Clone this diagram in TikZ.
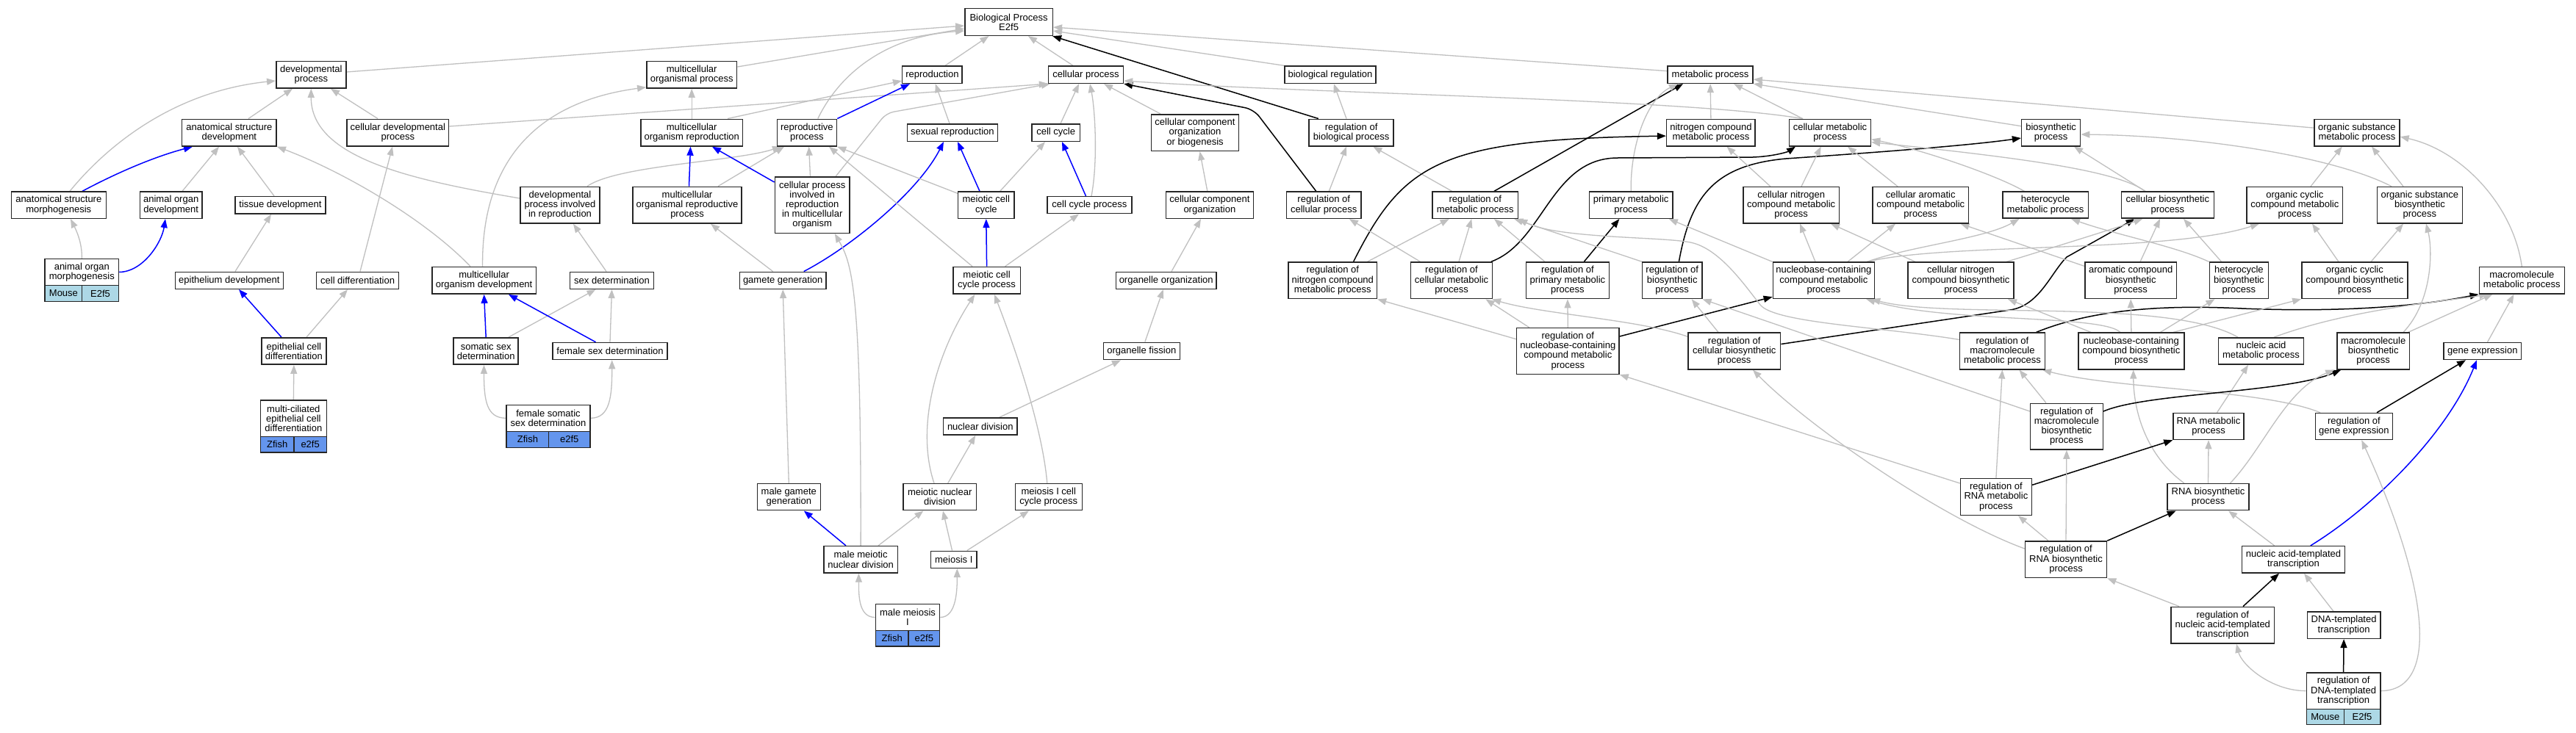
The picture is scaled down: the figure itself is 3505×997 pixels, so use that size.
\documentclass[tikz,border=0pt]{standalone}
\usepackage{fontspec}
\newfontfamily\nf{Liberation Sans}
\usetikzlibrary{arrows.meta}
\definecolor{edgegray}{RGB}{192,192,192}
\definecolor{mouseblue}{RGB}{173,216,230}
\definecolor{zfishblue}{RGB}{100,149,237}
\pgfdeclarelayer{edgelayer}
\pgfsetlayers{edgelayer,main}
\tikzset{
  box/.style={rectangle, draw=black!85, line width=1.5pt, fill=white, inner sep=0pt, align=center, font={\nf\fontsize{13}{13.2}\selectfont}},
  cellm/.style={box, fill=mouseblue},
  cellz/.style={box, fill=zfishblue},
  ge/.style={draw=edgegray, line width=1.3pt, -{Triangle[length=12pt,width=9pt]}},
  be/.style={draw=blue, line width=1.5pt, -{Triangle[length=12pt,width=9pt]}},
  ke/.style={draw=black, line width=1.5pt, -{Triangle[length=12pt,width=9pt]}},
}
\newcommand{\gobox}[6]{\node[box, minimum width=#4, minimum height=#5] (#1) at (#2,#3) {#6};}
\begin{document}
\begin{tikzpicture}[x=1pt,y=-1pt]
\useasboundingbox (0,0) rectangle (3505,997);
\begin{pgfonlayer}{edgelayer}
\fill[white] (0,0) rectangle (3505,997);
\end{pgfonlayer}
% rank 0-1
\gobox{bp}{1372.6}{30}{119.4}{36.7}{Biological Process\\E2f5}
\gobox{devproc}{423.3}{101.7}{95}{36.7}{developmental\\process}
\gobox{multorgproc}{941.2}{101.7}{122.8}{36.7}{multicellular\\organismal process}
\gobox{reproduction}{1268.4}{101.7}{81.5}{23.3}{reproduction}
\gobox{cellproc}{1477.5}{101.7}{101.8}{23.3}{cellular process}
\gobox{bioreg}{1810}{101.7}{124.4}{23.3}{biological regulation}
\gobox{metproc}{2327.1}{101.7}{116}{23.3}{metabolic process}
% rank 2
\gobox{anatdev}{311.9}{180.6}{128.6}{36.7}{anatomical structure\\development}
\gobox{celldevproc}{541.3}{180.6}{138.8}{36.7}{cellular developmental\\process}
\gobox{multorgrepro}{941.2}{180.6}{138.9}{36.7}{multicellular\\organism reproduction}
\gobox{reproproc}{1097.9}{180.6}{81.2}{36.7}{reproductive\\process}
\gobox{sexrepro}{1295.9}{180.6}{122.9}{23.3}{sexual reproduction}
\gobox{cellcycle}{1436.7}{180.6}{65.4}{23.3}{cell cycle}
\gobox{ccob}{1626}{180.6}{118.7}{49.7}{cellular component\\organization\\or biogenesis}
\gobox{regbioproc}{1838.6}{180.6}{114.9}{36.7}{regulation of\\biological process}
\gobox{nitromet}{2327.9}{180.6}{120.6}{36.4}{nitrogen compound\\metabolic process}
\gobox{cellmet}{2490}{180.6}{110.9}{36.4}{cellular metabolic\\process}
\gobox{biosyn}{2790.6}{180.6}{80}{36.4}{biosynthetic\\process}
\gobox{orgsubmet}{3206.9}{180.6}{116}{36.4}{organic substance\\metabolic process}
% rank 3
\gobox{anatmorph}{79.8}{279.2}{129}{36.3}{anatomical structure\\morphogenesis}
\gobox{aodev}{232.7}{279.2}{84.2}{36.3}{animal organ\\development}
\gobox{tissuedev}{381.4}{279.2}{122.8}{23.3}{tissue development}
\gobox{devprocrepro}{762}{279.2}{108.3}{49.7}{developmental\\process involved\\in reproduction}
\gobox{morp}{935}{279.2}{148}{49.7}{multicellular\\organismal reproductive\\process}
\gobox{cpirmo}{1105.2}{279.2}{101.7}{76.3}{cellular process\\involved in\\reproduction\\in multicellular\\organism}
\gobox{meioticcc}{1341.8}{279.2}{76.2}{36.3}{meiotic cell\\cycle}
\gobox{ccp}{1482.4}{279.2}{114.8}{23}{cell cycle process}
\gobox{cco}{1645.9}{279.2}{118.7}{36.3}{cellular component\\organization}
\gobox{regcellproc}{1801.2}{279.2}{101.4}{36.3}{regulation of\\cellular process}
\gobox{regmetproc}{2007.3}{279.2}{116.4}{36.3}{regulation of\\metabolic process}
\gobox{primmet}{2219.2}{279.2}{113.7}{36.3}{primary metabolic\\process}
\gobox{cellnitromet}{2437.2}{279.2}{130.9}{49.3}{cellular nitrogen\\compound metabolic\\process}
\gobox{cellarom}{2613.2}{279.2}{130.9}{49.3}{cellular aromatic\\compound metabolic\\process}
\gobox{heteromet}{2783.1}{279.2}{116.4}{36}{heterocycle\\metabolic process}
\gobox{cellbiosyn}{2949.3}{279.2}{125.9}{36}{cellular biosynthetic\\process}
\gobox{orgcycmet}{3122.4}{279.2}{130.4}{49.3}{organic cyclic\\compound metabolic\\process}
\gobox{orgsubbio}{3292.4}{279.2}{116}{49.3}{organic substance\\biosynthetic\\process}
% rank 4
\gobox{aomorph}{111.35}{370.5}{100.3}{35.6}{animal organ\\morphogenesis}
\node[cellm, minimum width=50.5, minimum height=22.4] (aomorph-a) at (86.45,399.5) {Mouse};
\node[cellm, minimum width=49.8, minimum height=22.4] (aomorph-b) at (136.6,399.5) {E2f5};
\gobox{epidev}{311.9}{381.8}{147}{23}{epithelium development}
\gobox{celldiff}{486.6}{381.8}{112.2}{23}{cell differentiation}
\gobox{multorgdev}{658.6}{381.8}{141.6}{36.7}{multicellular\\organism development}
\gobox{sexdet}{832.5}{381.8}{113.6}{23}{sex determination}
\gobox{gamgen}{1065.2}{381.8}{117.6}{23}{gamete generation}
\gobox{meioccp}{1342.6}{381.8}{91.5}{36.7}{meiotic cell\\cycle process}
\gobox{orgorg}{1586.7}{381.8}{136.6}{23}{organelle organization}
\gobox{regnitro}{1813.3}{381.8}{120.2}{49.7}{regulation of\\nitrogen compound\\metabolic process}
\gobox{regcellmet}{1975}{381.8}{110.6}{49.7}{regulation of\\cellular metabolic\\process}
\gobox{regprimmet}{2132.9}{381.8}{113.3}{49.7}{regulation of\\primary metabolic\\process}
\gobox{regbiosyn}{2275.2}{381.8}{81.2}{49.7}{regulation of\\biosynthetic\\process}
\gobox{nucmet}{2481.4}{381.8}{138.1}{49.3}{nucleobase-containing\\compound metabolic\\process}
\gobox{cellnitrobio}{2668}{381.8}{143.9}{49.3}{cellular nitrogen\\compound biosynthetic\\process}
\gobox{aromcompbio}{2899.2}{381.8}{124.5}{49.3}{aromatic compound\\biosynthetic\\process}
\gobox{heterobio}{3046.4}{381.8}{80}{49.3}{heterocycle\\biosynthetic\\process}
\gobox{orgcycbio}{3203.8}{381.8}{143.9}{49.3}{organic cyclic\\compound biosynthetic\\process}
\gobox{macromet}{3431.3}{381.8}{116}{36.3}{macromolecule\\metabolic process}
% rank 5
\gobox{epicelldiff}{399.9}{478}{88}{36.3}{epithelial cell\\differentiation}
\gobox{somsex}{661.2}{478}{88}{36.3}{somatic sex\\determination}
\gobox{femsex}{830}{478}{156.1}{23}{female sex determination}
\gobox{orgfis}{1553.3}{478}{104.1}{23.3}{organelle fission}
\gobox{regnucmet}{2133.3}{478}{139.3}{62.6}{regulation of\\nucleobase-containing\\compound metabolic\\process}
\gobox{regcellbio}{2359.7}{478}{125.9}{49.7}{regulation of\\cellular biosynthetic\\process}
\gobox{regmacromet}{2724.4}{478}{115.9}{49.7}{regulation of\\macromolecule\\metabolic process}
\gobox{nucbio}{2899.9}{478}{143.9}{49.7}{nucleobase-containing\\compound biosynthetic\\process}
\gobox{nucacidmet}{3076.5}{478}{116}{36.3}{nucleic acid\\metabolic process}
\gobox{macrobio}{3229.2}{478}{98.5}{49.7}{macromolecule\\biosynthetic\\process}
\gobox{geneexp}{3377.8}{478}{105.2}{23}{gene expression}
% rank 6
\gobox{multicil}{399.35}{569.65}{89.9}{49.3}{multi-ciliated\\epithelial cell\\differentiation}
\node[cellz, minimum width=45.6, minimum height=21.7] (multicil-a) at (377.2,605.15) {Zfish};
\node[cellz, minimum width=44.3, minimum height=21.7] (multicil-b) at (422.15,605.15) {e2f5};
\gobox{femsomsex}{746}{569.3}{113.6}{36}{female somatic\\sex determination}
\node[cellz, minimum width=57.4, minimum height=22] (femsomsex-a) at (717.9,598.3) {Zfish};
\node[cellz, minimum width=56.2, minimum height=22] (femsomsex-b) at (774.7,598.3) {e2f5};
\gobox{nucdiv}{1333.8}{580.5}{100.3}{23}{nuclear division}
\gobox{regmacrobio}{2811.9}{580.7}{98.7}{62.7}{regulation of\\macromolecule\\biosynthetic\\process}
\gobox{RNAmet}{3005}{580.5}{96}{36}{RNA metabolic\\process}
\gobox{reggeneexp}{3202.9}{580.5}{105.2}{36}{regulation of\\gene expression}
% rank 7
\gobox{malegamgen}{1073.3}{676.7}{86}{36}{male gamete\\generation}
\gobox{meiond}{1278.7}{676.7}{99.5}{36}{meiotic nuclear\\division}
\gobox{meioIcc}{1426.8}{676.7}{91.1}{36}{meiosis I cell\\cycle process}
\gobox{regRNAmet}{2715.9}{676.5}{96.9}{49.7}{regulation of\\RNA metabolic\\process}
\gobox{RNAbio}{3004.5}{676.7}{110.7}{36}{RNA biosynthetic\\process}
% rank 8
\gobox{malemeiond}{1171.1}{761.8}{100.3}{36.3}{male meiotic\\nuclear division}
\gobox{meiosisI}{1297.8}{761.8}{62.7}{23}{meiosis I}
\gobox{regRNAbio}{2811}{761.8}{111.1}{49.7}{regulation of\\RNA biosynthetic\\process}
\gobox{nucacidtrans}{3120.5}{761.8}{140.2}{36.3}{nucleic acid-templated\\transcription}
% rank 9
\gobox{malemeiosisI}{1235}{840.5}{87.2}{35.6}{male meiosis\\I}
\node[cellz, minimum width=44.7, minimum height=21.7] (malemeiosisI-a) at (1213.75,869.15) {Zfish};
\node[cellz, minimum width=42.5, minimum height=21.7] (malemeiosisI-b) at (1257.35,869.15) {e2f5};
\gobox{regnucacidtrans}{3024.3}{851.2}{140.6}{49.7}{regulation of\\nucleic acid-templated\\transcription}
\gobox{DNAtrans}{3189.1}{851.2}{99.5}{36.3}{DNA-templated\\transcription}
% rank 10
\gobox{regDNAtrans}{3188.6}{940.65}{100.4}{49.3}{regulation of\\DNA-templated\\transcription}
\node[cellm, minimum width=50.9, minimum height=21] (regDNAtrans-a) at (3163.85,975.8) {Mouse};
\node[cellm, minimum width=49.5, minimum height=21] (regDNAtrans-b) at (3214.05,975.8) {E2f5};

\begin{pgfonlayer}{edgelayer}
% to bp
\draw[ge] ([yshift=3.7]devproc.east) -- ([yshift=-5]bp.west);
\draw[ge] ([yshift=10.7]multorgproc.east) -- ([yshift=-9]bp.west);
\draw[ge] ([xshift=14.9]reproproc.north) .. controls (1140,105) and (1200,50) .. ([yshift=-12]bp.west);
\draw[ge] ([xshift=17.6]reproduction.north) -- ([xshift=-27.2]bp.south);
\draw[ge] ([xshift=-17.5]cellproc.north) -- ([xshift=26.4]bp.south);
\draw[ge] (bioreg.north west) -- ([yshift=-12]bp.east);
\draw[ge] ([yshift=5]metproc.west) -- ([yshift=-7]bp.east);
\draw[ke] ([xshift=-44.8]regbioproc.north) -- ([xshift=-1]bp.south east);
% developmental
\draw[ge] ([xshift=26.1]anatdev.north) -- ([xshift=-25.3]devproc.south);
\draw[ge] ([xshift=-27.3]celldevproc.north) -- ([xshift=26.7]devproc.south);
\draw[ge] ([xshift=15.2]anatmorph.north) .. controls (140,205) and (230,125) .. ([yshift=-8.3]devproc.west);
\draw[ge] ([yshift=9.2]devprocrepro.west) .. controls (560,245) and (423,215) .. (devproc.south);
\draw[be] ([xshift=32.2]anatmorph.north) .. controls (165,232) and (215,212) .. ([xshift=-49.9]anatdev.south);
\draw[ge] ([xshift=15.3]aodev.north) -- ([xshift=-13.9]anatdev.south);
\draw[ge] ([xshift=-8.4]tissuedev.north) -- ([xshift=11.1]anatdev.south);
\draw[ge] ([xshift=-18.6]multorgdev.north) .. controls (580,300) and (470,235) .. (anatdev.south east);
\draw[ge] (aomorph.north) .. controls (112,330) and (103,312) .. ([xshift=16.2]anatmorph.south);
\draw[be] (aomorph.east) .. controls (195,370) and (220,330) .. ([xshift=-7.7]aodev.south);
\draw[ge] ([xshift=8.1]epidev.north) -- ([xshift=-12.4]tissuedev.south);
\draw[ge] ([xshift=3.4]celldiff.north) -- ([xshift=-7.3]celldevproc.south);
\draw[ge] ([yshift=8.6]celldevproc.east) -- (cellproc.south west);
\draw[be] ([xshift=-16.9]epicelldiff.north) -- ([xshift=13.1]epidev.south);
\draw[ge] ([xshift=17.1]epicelldiff.north) -- ([xshift=-13.6]celldiff.south);
\draw[ge] (multicil.north) -- (epicelldiff.south);
% multicellular / reproduction
\draw[ge] ([xshift=-2]multorgdev.north) .. controls (655,230) and (720,140) .. ([yshift=2]multorgproc.south west);
\draw[ge] (multorgrepro.north) -- (multorgproc.south);
\draw[ge] ([xshift=48.8]multorgrepro.north) -- ([yshift=-8.3]reproduction.west);
\draw[be] (reproproc.north east) -- ([xshift=-30.4]reproduction.south);
\draw[ge] ([xshift=37]devprocrepro.north) .. controls (840,225) and (1000,220) .. ([xshift=-34.9]reproproc.south);
\draw[ge] ([xshift=42]morp.north) -- ([xshift=-30.9]reproproc.south);
\draw[be] ([xshift=2.5]morp.north) -- ([xshift=-1.7]multorgrepro.south);
\draw[be] ([yshift=31.2]cpirmo.west) -- ([xshift=27.8]multorgrepro.south);
\draw[ge] ([xshift=-2.7]cpirmo.north) -- ([xshift=2.7]reproproc.south);
\draw[ge, rounded corners=10] ([xshift=31.8]cpirmo.north) -- (1206,154) -- ([xshift=3]cellproc.south west);
\draw[ge] ([xshift=-7.5]sexdet.north) -- ([xshift=18]devprocrepro.south);
\draw[ge] ([xshift=-13.6]gamgen.north) -- ([xshift=32]morp.south);
\draw[be] ([xshift=28.5]gamgen.north) .. controls (1160,335) and (1250,260) .. ([xshift=-11.9]sexrepro.south);
\draw[be] (somsex.north) -- (multorgdev.south);
\draw[ge] ([xshift=30.8]somsex.north) -- ([xshift=-22]sexdet.south);
\draw[be] ([xshift=-19.5]femsex.north) -- ([xshift=33.4]multorgdev.south);
\draw[ge] (femsex.north) -- (sexdet.south);
\draw[ge] (femsomsex.west) .. controls (662,569.3) and (658.5,545) .. ([xshift=-2.7]somsex.south);
\draw[ge] (femsomsex.east) .. controls (830,569.3) and (832.7,540) .. ([xshift=2.7]femsex.south);
\draw[ge] (malegamgen.north) -- (gamgen.south);
\draw[be] ([xshift=-20.1]malemeiond.north) -- ([xshift=20.5]malegamgen.south);
\draw[ge] ([xshift=23.9]malemeiond.north) -- ([xshift=-22.3]meiond.south);
\draw[ge] (malemeiond.north) .. controls (1172,400) and (1160,360) .. ([xshift=30.6]cpirmo.south);
\draw[ge] (malemeiosisI.west) .. controls (1168,840.5) and (1168.4,810) .. ([xshift=-2.7]malemeiond.south);
\draw[ge] (malemeiosisI.east) .. controls (1302.3,840.5) and (1302.3,800) .. ([xshift=4.5]meiosisI.south);
% cell cycle
\draw[ge] ([xshift=-3.9]sexrepro.north) -- ([xshift=4.3]reproduction.south);
\draw[be] ([xshift=-8.8]meioticcc.north) -- ([xshift=7.1]sexrepro.south);
\draw[ge] ([xshift=18.9]meioticcc.north) -- ([xshift=-14.7]cellcycle.south);
\draw[ge] ([yshift=-3]meioticcc.north west) -- (reproproc.south east);
\draw[be] ([xshift=-4.9]ccp.north) -- ([xshift=8.3]cellcycle.south);
\draw[ge] ([xshift=2.6]ccp.north) .. controls (1494,220) and (1490,150) .. ([xshift=5.5]cellproc.south);
\draw[ge] ([xshift=6.3]cellcycle.north) -- ([xshift=-9.5]cellproc.south);
\draw[ge] ([xshift=-47]ccob.north) -- ([xshift=24.5]cellproc.south);
\draw[be] (meioccp.north) -- (meioticcc.south);
\draw[ge] ([xshift=25]meioccp.north) -- ([xshift=-14.4]ccp.south);
\draw[ge] ([xshift=-19.6]meioccp.north) -- ([xshift=30.1]reproproc.south);
\draw[ge] ([xshift=-7.7]meiond.north) .. controls (1245,580) and (1275,480) .. ([xshift=-16.3]meioccp.south);
\draw[ge] ([xshift=-2]meioIcc.north) .. controls (1420,600) and (1395,510) .. ([xshift=10.4]meioccp.south);
\draw[ge] ([xshift=11]meiond.north) -- ([xshift=-6.6]nucdiv.south);
\draw[ge] ([xshift=-2.3]meiosisI.north) -- ([xshift=4.3]meiond.south);
\draw[ge] ([xshift=17.9]meiosisI.north) -- ([xshift=-26.8]meioIcc.south);
\draw[ge] ([xshift=25.9]nucdiv.north) -- ([xshift=-28.3]orgfis.south);
\draw[ge] ([xshift=4.5]orgfis.north) -- ([xshift=-4]orgorg.south);
\draw[ge] ([xshift=7.3]orgorg.north) -- ([xshift=-11.9]cco.south);
\draw[ge] ([xshift=-3.1]cco.north) -- ([xshift=6.5]ccob.south);
% regulation
\draw[ge] ([xshift=-6.6]regbioproc.north) -- ([xshift=4.8]bioreg.south);
\draw[ge] ([xshift=7.1]regcellproc.north) -- ([xshift=-6.6]regbioproc.south);
\draw[ke, rounded corners=12] ([xshift=-10.5]regcellproc.north) -- (1706,149) -- (cellproc.south east);
\draw[ge] ([xshift=-31.8]regmetproc.north) -- ([xshift=29.8]regbioproc.south);
\draw[ke] ([xshift=25.7]regmetproc.north) -- ([xshift=-37.1]metproc.south);
\draw[ge] (primmet.north) .. controls (2218,200) and (2240,135) .. ([xshift=-44.1]metproc.south);
\draw[ge] (nitromet.north) -- (metproc.south);
\draw[ge] ([xshift=-37]cellmet.north) -- ([xshift=31.9]metproc.south);
\draw[ge] ([xshift=-37]cellmet.north) .. controls (2300,135) and (1800,128) .. ([yshift=-8.3]cellproc.east);
\draw[ge] ([yshift=8.9]biosyn.west) -- (metproc.south east);
\draw[ge] ([yshift=6.5]orgsubmet.west) -- ([yshift=-6.3]metproc.east);
\draw[ge] ([xshift=47.4]regnitro.north) -- ([xshift=-35.6]regmetproc.south);
\draw[ke] ([xshift=28.3]regnitro.north) .. controls (1910,220) and (1960,190) .. ([yshift=-4.5]nitromet.west);
\draw[ge] ([xshift=-42.7]regcellmet.north) -- ([xshift=34.7]regcellproc.south);
\draw[ge] ([xshift=10]regcellmet.north) -- ([xshift=-5]regmetproc.south);
\draw[ke] ([xshift=54]regcellmet.north) .. controls (2100,330) and (2110,216) .. (2200,215) -- (2385,214) .. controls (2412,213) and (2432,207) .. ([xshift=-47]cellmet.south);
\draw[ge] ([xshift=-31.1]regprimmet.north) -- ([xshift=25.7]regmetproc.south);
\draw[ke] ([xshift=22.5]regprimmet.north) -- ([xshift=-15.9]primmet.south);
\draw[ge] (regbiosyn.north west) -- ([xshift=-6]regmetproc.south east);
\draw[ke] ([xshift=9.2]regbiosyn.north) .. controls (2300,270) and (2330,225) .. (2430,216) .. controls (2560,207) and (2680,198) .. ([yshift=-7.4]biosyn.west);
\draw[ge] ([yshift=16.3]regnucmet.west) -- (regnitro.south east);
\draw[ge] ([xshift=-52.5]regnucmet.north) -- ([xshift=46.5]regcellmet.south);
\draw[ge] (regnucmet.north) -- (regprimmet.south);
\draw[ke] ([yshift=20]regnucmet.east) -- ([yshift=3]nucmet.south west);
\draw[ge] ([yshift=19.8]regcellbio.west) .. controls (2230,435) and (2100,428) .. ([xshift=-1]regcellmet.south east);
\draw[ge] ([xshift=-21.7]regcellbio.north) -- ([xshift=26.5]regbiosyn.south);
\draw[ke] ([yshift=9.5]regcellbio.east) -- (2735,422) .. controls (2775,416) and (2790,372) .. (2812,350) -- ([xshift=19]cellbiosyn.south west);
\draw[ge] ([yshift=-10]regmacromet.north west) .. controls (2560,445) and (2415,440) .. (2395,415) .. controls (2375,390) and (2340,338) .. (2300,330) .. controls (2260,322) and (2120,325) .. (regmetproc.south east);
\draw[ke] ([xshift=46.1]regmacromet.north) .. controls (2850,420) and (2950,415) .. (3050,420) .. controls (3200,426) and (3300,415) .. (macromet.south west);
% metabolic
\draw[ge] ([xshift=-28.4]cellnitromet.north) -- ([xshift=21.6]nitromet.south);
\draw[ge] ([xshift=13.8]cellnitromet.north) -- ([xshift=-12.3]cellmet.south);
\draw[ge] ([xshift=-31.2]cellarom.north) -- ([xshift=24]cellmet.south);
\draw[ge] ([xshift=-28.7]heteromet.north) .. controls (2720,240) and (2620,205) .. ([yshift=-9]cellmet.east);
\draw[ge] ([xshift=-30.3]cellbiosyn.north) .. controls (2880,232) and (2750,215) .. ([yshift=-13]cellmet.east);
\draw[ge] ([xshift=-30.3]cellbiosyn.north) -- ([xshift=31.4]biosyn.south);
\draw[ge] ([xshift=-38.4]orgsubbio.north) .. controls (3180,215) and (3000,185) .. ([yshift=-2.4]biosyn.east);
\draw[ge] ([xshift=21.6]orgcycmet.north) -- ([xshift=-20.2]orgsubmet.south);
\draw[ge] ([xshift=-22.4]orgsubbio.north) -- ([xshift=20.1]orgsubmet.south);
\draw[ge] (macromet.north) .. controls (3420,280) and (3350,205) .. ([yshift=-5.5]orgsubmet.east);
\draw[ge] ([xshift=-11.4]nucmet.north) -- ([xshift=11.8]cellnitromet.south);
\draw[ge] ([xshift=32.6]nucmet.north) -- ([xshift=-34.2]cellarom.south);
\draw[ge] ([xshift=59]nucmet.north) .. controls (2600,335) and (2700,325) .. ([xshift=-35.6]heteromet.south);
\draw[ge] ([xshift=59]nucmet.north) .. controls (2650,330) and (2950,345) .. ([xshift=-48.4]orgcycmet.south);
\draw[ge] (nucmet.north west) -- ([xshift=-6]primmet.south east);
\draw[ge] ([xshift=-62]cellnitrobio.north) -- ([xshift=53.8]cellnitromet.south);
\draw[ge] ([xshift=62]cellnitrobio.north) .. controls (2800,335) and (2880,310) .. ([xshift=-34]cellbiosyn.south);
\draw[ge] ([yshift=-6]aromcompbio.north west) -- ([xshift=-12]cellarom.south east);
\draw[ge] ([xshift=12.8]aromcompbio.north) -- ([xshift=-10.3]cellbiosyn.south);
\draw[ge] (heterobio.north west) .. controls (2960,335) and (2880,320) .. ([xshift=34.9]heteromet.south);
\draw[ge] ([xshift=-23.8]heterobio.north) -- ([xshift=21.7]cellbiosyn.south);
\draw[ge] ([xshift=-21.8]orgcycbio.north) -- ([xshift=23.6]orgcycmet.south);
\draw[ge] ([xshift=22.2]orgcycbio.north) -- ([xshift=-22.4]orgsubbio.south);
\draw[ge] ([xshift=-31.5]nucacidmet.north) .. controls (2950,405) and (2650,435) .. ([xshift=-5]nucmet.south east);
\draw[ge] ([xshift=-15]nucbio.north) .. controls (2860,428) and (2650,440) .. ([xshift=-12]nucmet.south east);
\draw[ge] ([xshift=-54.9]nucbio.north) -- ([xshift=64]cellnitrobio.south);
\draw[ge] (nucbio.north) -- (aromcompbio.south);
\draw[ge] ([xshift=39.5]nucbio.north) -- ([xshift=-33]heterobio.south);
\draw[ge] ([xshift=57]nucbio.north) -- (orgcycbio.south west);
\draw[ge] ([xshift=17.5]nucacidmet.north) .. controls (3200,420) and (3330,410) .. ([xshift=-46]macromet.south);
\draw[ge] ([xshift=47.4]macrobio.north) -- ([xshift=-40]macromet.south);
\draw[ge] ([xshift=40.8]macrobio.north) .. controls (3310,410) and (3310,340) .. ([xshift=8.6]orgsubbio.south);
\draw[ge] ([xshift=6.7]geneexp.north) -- ([xshift=-10.8]macromet.south);
% lower right
\draw[ge] ([xshift=11.5]RNAmet.north) -- ([xshift=-17.5]nucacidmet.south);
\draw[ge] ([xshift=-45.9]reggeneexp.north) .. controls (3080,530) and (2880,530) .. ([xshift=-4]regmacromet.south east);
\draw[ge] ([xshift=-32.5]RNAbio.north) .. controls (2920,620) and (2903,560) .. ([xshift=2.8]nucbio.south);
\draw[ke] ([yshift=16.2]regRNAmet.east) -- (RNAmet.south west);
\draw[ge] (regRNAmet.north) -- (regmacromet.south);
\draw[ge] ([yshift=18.5]regRNAmet.west) -- (regnucmet.south east);
\draw[ge] ([xshift=-27.9]regmacrobio.north) -- ([xshift=23.1]regmacromet.south);
\draw[ge] ([yshift=20.7]regmacrobio.west) -- (regbiosyn.south east);
\draw[ke] ([yshift=20.7]regmacrobio.east) .. controls (2920,535) and (3110,535) .. ([xshift=6]macrobio.south west);
\draw[ge] ([xshift=29.9]RNAbio.north) .. controls (3080,610) and (3110,530) .. ([xshift=-3]macrobio.south west);
\draw[ge] (RNAbio.north) -- (RNAmet.south);
\draw[ge] ([xshift=-24]regRNAbio.north) -- ([xshift=30.1]regRNAmet.south);
\draw[ge] (regRNAbio.north) -- (regmacrobio.south);
\draw[ke] (regRNAbio.north east) -- ([xshift=-43.8]RNAbio.south);
\draw[ge] ([yshift=14.8]regRNAbio.west) .. controls (2640,705) and (2460,580) .. ([xshift=25.3]regcellbio.south);
\draw[ge] ([xshift=-25.9]nucacidtrans.north) -- ([xshift=27.5]RNAbio.south);
\draw[be] ([xshift=23.3]nucacidtrans.north) .. controls (3230,690) and (3330,590) .. ([xshift=-7.8]geneexp.south);
\draw[ke] ([xshift=31.1]reggeneexp.north) -- ([xshift=-22.8]geneexp.south);
\draw[ge] ([xshift=-59.3]regnucacidtrans.north) -- (regRNAbio.south east);
\draw[ke] ([xshift=27.7]regnucacidtrans.north) -- ([xshift=-19.5]nucacidtrans.south);
\draw[ge] ([xshift=-14.1]DNAtrans.north) -- ([xshift=14.5]nucacidtrans.south);
\draw[ke] (regDNAtrans.north) -- (DNAtrans.south);
\draw[ge] (regDNAtrans.west) .. controls (3090,940.65) and (3050,905) .. ([xshift=18.7]regnucacidtrans.south);
\draw[ge] (regDNAtrans.east) .. controls (3320,940) and (3305,800) .. ([xshift=10.4]reggeneexp.south);
\end{pgfonlayer}
\end{tikzpicture}
\end{document}
